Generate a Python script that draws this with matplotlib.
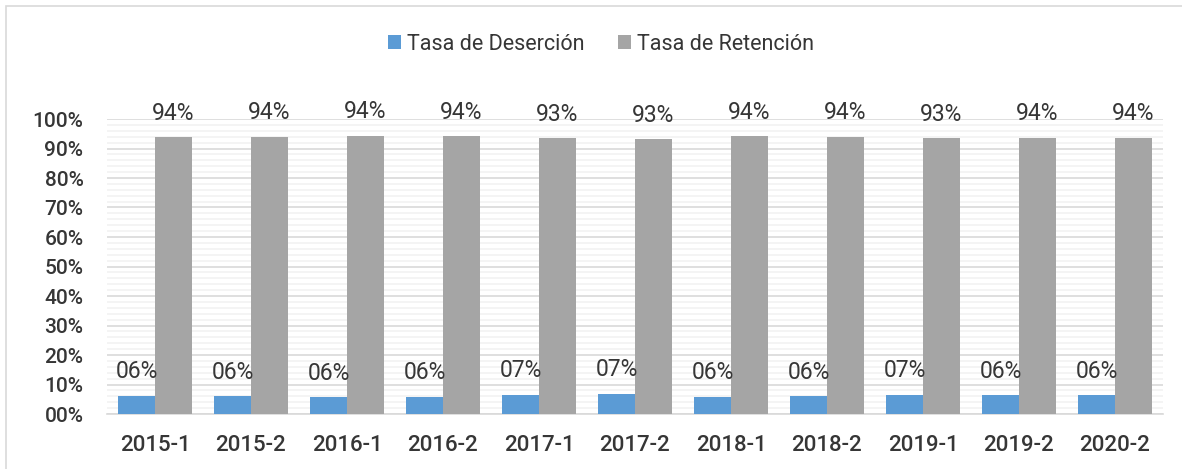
import numpy as np
import matplotlib.pyplot as plt
from matplotlib.patches import Rectangle
from matplotlib.ticker import MultipleLocator, FuncFormatter

# Datos
periodos = ["2015-1", "2015-2", "2016-1", "2016-2", "2017-1", "2017-2",
            "2018-1", "2018-2", "2019-1", "2019-2", "2020-2"]
desercion = [0.062, 0.061, 0.057, 0.059, 0.066, 0.068, 0.059, 0.061, 0.066, 0.063, 0.063]
retencion = [0.938, 0.939, 0.943, 0.941, 0.934, 0.932, 0.941, 0.939, 0.934, 0.937, 0.937]

AZUL = "#5B9BD5"
GRIS = "#A5A5A5"
TEXTO = "#363636"

plt.rcParams['font.family'] = ['Roboto', 'DejaVu Sans']

fig = plt.figure(figsize=(11.82, 4.69), dpi=100)
ax = fig.add_axes([107 / 1182, 1 - 414 / 469, (1163 - 107) / 1182, (414 - 119) / 469])

# marco exterior del grafico
fig.patches.append(Rectangle((6 / 1182, -0.1), 1.2, 1 - 6 / 469 + 0.1, transform=fig.transFigure,
                             fill=False, edgecolor="#D9D9D9", linewidth=1.2))

x = np.arange(len(periodos))
ancho = 0.385
b1 = ax.bar(x - ancho / 2, desercion, ancho, color=AZUL, label="Tasa de Deserción", zorder=3)
b2 = ax.bar(x + ancho / 2, retencion, ancho, color=GRIS, label="Tasa de Retención", zorder=3)

for barras in (b1, b2):
    for b in barras:
        ax.annotate(f"{round(b.get_height() * 100):02d}%",
                    (b.get_x() + b.get_width() / 2, b.get_height()),
                    xytext=(0, 9), textcoords="offset points",
                    ha="center", va="bottom", fontsize=16.5, color=TEXTO)

ax.set_xlim(-0.5, len(periodos) - 0.5)
ax.set_ylim(0, 1)
ax.yaxis.set_major_locator(MultipleLocator(0.1))
ax.yaxis.set_minor_locator(MultipleLocator(0.02))
ax.yaxis.set_major_formatter(FuncFormatter(lambda v, p: f"{round(v * 100):02d}%"))
ax.grid(axis="y", which="minor", color="#F2F2F2", linewidth=1.2, zorder=0)
ax.grid(axis="y", which="major", color="#D9D9D9", linewidth=1.2, zorder=1)
ax.set_axisbelow(True)

ax.set_xticks(x)
ax.set_xticklabels(periodos)
ax.tick_params(axis="both", which="both", length=0, labelcolor=TEXTO)
ax.tick_params(axis="y", labelsize=15, pad=17)
ax.tick_params(axis="x", labelsize=16, pad=15)
for lab in ax.get_xticklabels() + ax.get_yticklabels():
    lab.set_fontweight("medium")

for s in ("top", "right", "left"):
    ax.spines[s].set_visible(False)
ax.spines["bottom"].set_color("#D9D9D9")
ax.spines["bottom"].set_linewidth(1.2)

fig.legend(loc="center", bbox_to_anchor=(601 / 1182, 1 - 44 / 469), ncol=2, frameon=False,
           fontsize=15.5, handlelength=0.6, handleheight=0.6, handletextpad=0.25,
           columnspacing=1.6, labelcolor=TEXTO)

fig.savefig("out.png", dpi=100)
